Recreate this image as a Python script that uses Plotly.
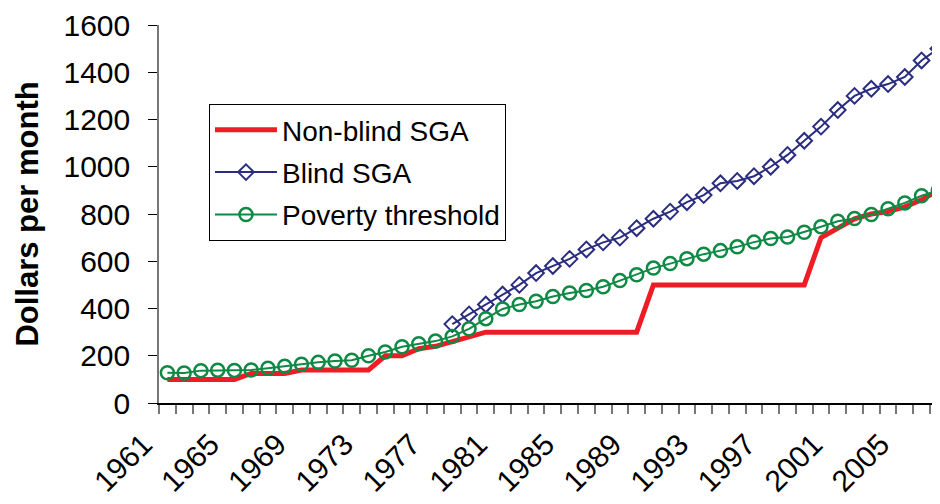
import plotly.graph_objects as go

years = [1961, 1962, 1963, 1964, 1965, 1966, 1967, 1968, 1969, 1970,
         1971, 1972, 1973, 1974, 1975, 1976, 1977, 1978, 1979, 1980,
         1981, 1982, 1983, 1984, 1985, 1986, 1987, 1988, 1989, 1990,
         1991, 1992, 1993, 1994, 1995, 1996, 1997, 1998, 1999, 2000,
         2001, 2002, 2003, 2004, 2005, 2006, 2007]

non_blind_sga = [100, 100, 100, 100, 100, 125, 125, 125, 140, 140,
                 140, 140, 140, 200, 200, 230, 240, 260, 280, 300,
                 300, 300, 300, 300, 300, 300, 300, 300, 300, 500,
                 500, 500, 500, 500, 500, 500, 500, 500, 500, 700,
                 740, 780, 800, 810, 830, 860, 900]

blind_sga = [None, None, None, None, None, None, None, None, None, None,
             None, None, None, None, None, None, None, 334, 375, 417,
             459, 500, 550, 580, 610, 650, 680, 700, 740, 780,
             810, 850, 880, 930, 940, 960, 1000, 1050, 1110, 1170,
             1240, 1300, 1330, 1350, 1380, 1450, 1500]

poverty_threshold = [128, 127, 137, 139, 138, 140, 147, 156, 164, 172,
                     178, 181, 200, 216, 238, 251, 262, 282, 314, 357,
                     398, 417, 431, 451, 466, 476, 492, 518, 543, 571,
                     590, 611, 630, 645, 661, 681, 696, 703, 723, 746,
                     769, 781, 798, 822, 847, 877, 900]

label_years = [1961, 1965, 1969, 1973, 1977, 1981, 1985, 1989, 1993, 1997, 2001, 2005]
label_text = [str(y) for y in label_years]

FONT = "Arial, Liberation Sans, sans-serif"

fig = go.Figure()
fig.add_trace(go.Scatter(
    x=years, y=non_blind_sga, name="Non-blind SGA", mode="lines",
    line=dict(color="#EE1C25", width=5), legendgroup="a"))
fig.add_trace(go.Scatter(
    x=years, y=blind_sga, name="Blind SGA", mode="lines+markers",
    line=dict(color="#2B2D80", width=2),
    marker=dict(symbol="diamond-open", size=12, line=dict(width=2, color="#2B2D80")),
    legendgroup="b", cliponaxis=False))
fig.add_trace(go.Scatter(
    x=years, y=poverty_threshold, name="Poverty threshold", mode="lines+markers",
    line=dict(color="#0E8A45", width=2),
    marker=dict(symbol="circle-open", size=13, line=dict(width=2.5, color="#0E8A45")),
    legendgroup="c", cliponaxis=False))

fig.update_layout(
    width=932, height=496,
    margin=dict(l=151, r=0, t=17, b=101, autoexpand=False),
    paper_bgcolor="white", plot_bgcolor="white",
    font=dict(family=FONT, size=30, color="black"),
    showlegend=True,
    legend=dict(
        x=0.064, y=0.791, xanchor="left", yanchor="top",
        bgcolor="white", bordercolor="black", borderwidth=1,
        font=dict(family=FONT, size=28, color="black"),
        tracegroupgap=3, itemwidth=62,
    ),
    xaxis=dict(
        range=[1960.5, 2007.1], automargin=False,
        showgrid=False, zeroline=False,
        showline=True, linecolor="black", linewidth=1.5,
        tickmode="array", tickvals=label_years, ticktext=label_text,
        tickangle=-45, ticks="", ticklen=0,
        ticklabelshift=-24, ticklabelstandoff=10,
        tickfont=dict(family=FONT, size=30, color="black"),
        minor=dict(tickmode="linear", tick0=1960.5, dtick=1, ticks="outside",
                   ticklen=9, tickcolor="#777777", tickwidth=1.5, showgrid=False),
    ),
    yaxis=dict(
        range=[0, 1600], dtick=200, automargin=False,
        showgrid=False, zeroline=False,
        showline=True, linecolor="#777777", linewidth=1.5,
        ticks="outside", ticklen=9, tickcolor="black", tickwidth=1,
        ticklabelstandoff=12,
        tickfont=dict(family=FONT, size=30, color="black"),
        title=dict(text="<b>Dollars per month</b>",
                   font=dict(family=FONT, size=31, color="black"), standoff=16),
    ),
)

fig.write_html("out.html")
